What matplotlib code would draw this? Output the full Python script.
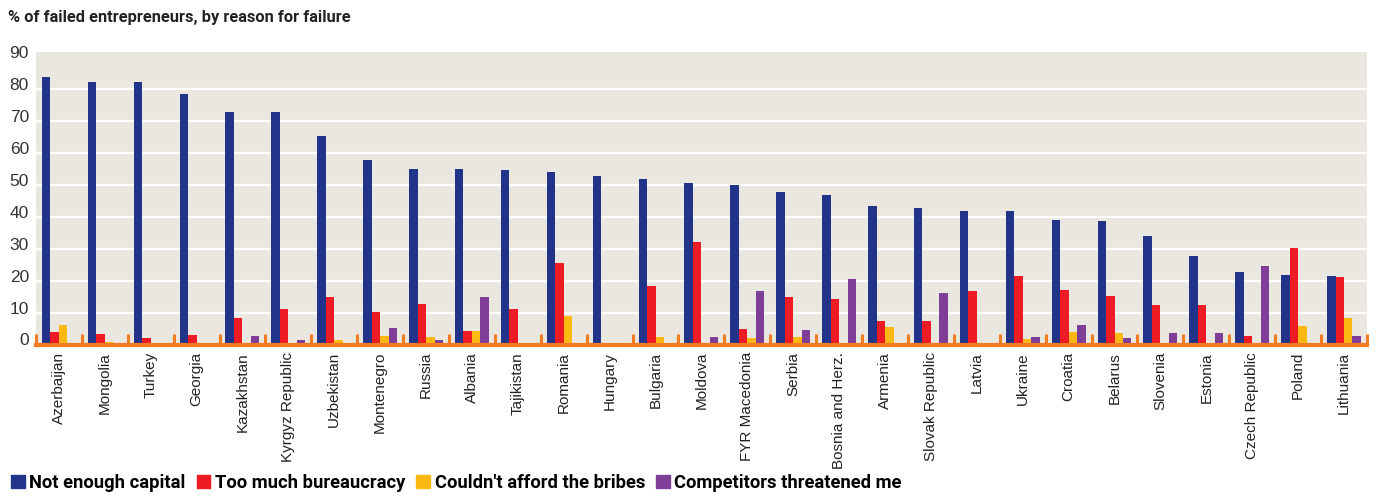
import matplotlib.pyplot as plt
import numpy as np
from matplotlib.patches import Patch
from matplotlib.transforms import ScaledTranslation

countries = ["Azerbaijan", "Mongolia", "Turkey", "Georgia", "Kazakhstan",
             "Kyrgyz Republic", "Uzbekistan", "Montenegro", "Russia", "Albania",
             "Tajikistan", "Romania", "Hungary", "Bulgaria", "Moldova",
             "FYR Macedonia", "Serbia", "Bosnia and Herz.", "Armenia",
             "Slovak Republic", "Latvia", "Ukraine", "Croatia", "Belarus",
             "Slovenia", "Estonia", "Czech Republic", "Poland", "Lithuania"]

capital = [83.9, 82.3, 82.3, 78.6, 72.9, 72.9, 65.4, 57.9, 55.1, 55.1,
           54.8, 54.1, 52.9, 51.9, 50.7, 50.1, 47.9, 46.9, 43.5, 42.8,
           41.9, 41.9, 39.1, 38.8, 34.1, 27.8, 22.8, 21.8, 21.5]
bureaucracy = [4.0, 3.3, 2.1, 3.0, 8.4, 11.2, 14.9, 10.2, 12.7, 4.3,
               11.2, 25.6, 0.0, 18.4, 32.2, 4.9, 14.9, 14.3, 7.4, 7.4,
               16.8, 21.5, 17.1, 15.3, 12.4, 12.4, 2.7, 30.3, 21.2]
bribes = [6.2, 0.8, 0.0, 0.0, 0.0, 0.0, 1.5, 2.7, 2.4, 4.3,
          0.0, 9.0, 0.0, 2.4, 0.0, 2.1, 2.4, 0.0, 5.5, 0.0,
          0.0, 1.8, 4.0, 3.7, 0.0, 0.0, 0.0, 5.9, 8.4]
threatened = [0.0, 0.0, 0.0, 0.0, 2.7, 1.5, 0.0, 5.2, 1.5, 14.9,
              0.0, 0.0, 0.0, 0.0, 2.4, 16.8, 4.6, 20.6, 0.0, 16.2,
              0.0, 2.4, 6.2, 2.1, 3.7, 3.7, 24.7, 0.0, 2.7]

series = [capital, bureaucracy, bribes, threatened]
labels = ["Not enough capital", "Too much bureaucracy",
          "Couldn't afford the bribes", "Competitors threatened me"]
colors = ["#21348a", "#ed1c24", "#fdb913", "#7f3f98"]

plt.rcParams['font.family'] = ['Liberation Sans', 'DejaVu Sans']

fig = plt.figure(figsize=(13.77, 4.98), dpi=100)
ax = fig.add_axes([0.0261, 0.3072, 0.9666, 0.5884])
ax.set_facecolor("#eae6e0")

x = np.arange(len(countries))
w = 0.185
for k, vals in enumerate(series):
    ax.bar(x + (k - 1.5) * w, vals, w, color=colors[k], zorder=3)

ax.set_xlim(-0.5, len(countries) - 0.5)
ax.set_ylim(0, 91.7)

# white horizontal gridlines (none at 90)
ax.set_yticks(np.arange(0, 91, 10))
ax.yaxis.grid(True, color="white", linewidth=1.6, zorder=1)
ax.get_ygridlines()[-1].set_visible(False)
ax.tick_params(axis="y", length=0, labelsize=12.5, labelcolor="#333333", pad=5)
off = ScaledTranslation(0, 4 / 72, fig.dpi_scale_trans)
for lbl in ax.get_yticklabels():
    lbl.set_transform(lbl.get_transform() + off)

# country labels and orange separators
ax.set_xticks(x)
ax.set_xticklabels(countries, rotation=90, fontsize=11, color="#222222")
ax.tick_params(axis="x", which="major", length=0, pad=5)
ax.set_xticks(np.arange(-0.5, len(countries)), minor=True)
ax.tick_params(axis="x", which="minor", direction="in", length=8,
               width=2.2, color="#f47b20")

for s in ["top", "right", "left"]:
    ax.spines[s].set_visible(False)
ax.spines["bottom"].set_color("#f47b20")
ax.spines["bottom"].set_linewidth(3)
ax.spines["bottom"].set_zorder(4)

fig.text(0.006, 0.965, "% of failed entrepreneurs, by reason for failure",
         fontsize=11.8, fontweight="bold", color="#222222", va="center",
         family=["Roboto", "DejaVu Sans"])

handles = [Patch(color=c) for c in colors]
fig.legend(handles, labels, loc="lower left", bbox_to_anchor=(0.0, -0.01),
           ncol=4, frameon=False, handlelength=0.75, handleheight=0.75,
           handletextpad=0.25, columnspacing=0.6, borderaxespad=0.2,
           prop={"family": ["Roboto", "DejaVu Sans"],
                 "weight": "bold", "size": 13.2})

fig.savefig("out.png", dpi=100)
